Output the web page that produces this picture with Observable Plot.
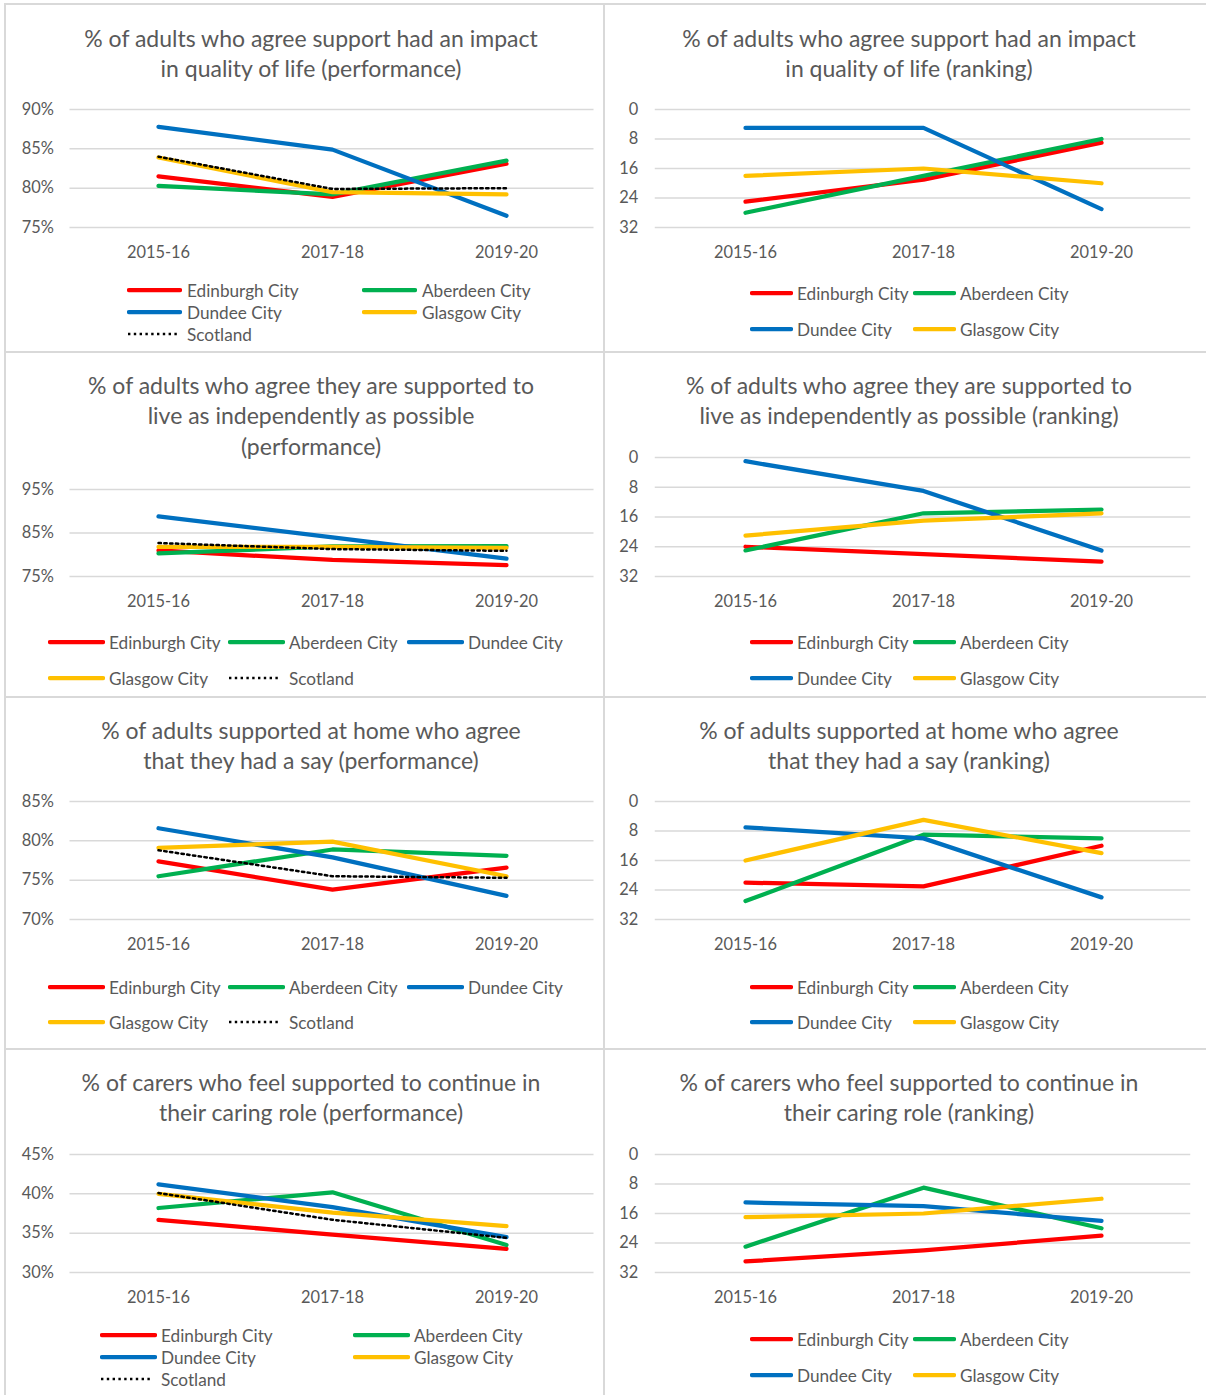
<!DOCTYPE html>
<html><head><meta charset="utf-8">
<script src="https://cdn.jsdelivr.net/npm/d3@7"></script>
<script src="https://cdn.jsdelivr.net/npm/@observablehq/plot@0.6"></script>
<style>
body{margin:0;background:#fff;}
#page{position:relative;width:1206px;height:1395px;overflow:hidden;font-family:Lato,"Open Sans",sans-serif;color:#595959;background:#fff;}
.rule{position:absolute;background:#d9d9d9;}
.title{position:absolute;text-align:center;font-size:23px;line-height:30.5px;color:#595959;white-space:nowrap;}
.lg{position:absolute;display:flex;align-items:center;height:20px;font-size:17.2px;white-space:nowrap;color:#595959;}
.plot{position:absolute;}
</style></head><body><div id="page"></div>
<script>
// ---- data ----
const years = ["2015-16", "2017-18", "2019-20"];
const cities = ["Edinburgh City", "Aberdeen City", "Dundee City", "Glasgow City"];
const scotlandLabel = "Scotland";
const cityColors = ["#FF0000", "#00B050", "#0070C0", "#FFC000"];

// order: Edinburgh, Aberdeen, Dundee, Glasgow
const qolPerformance = [[81.5, 78.9, 83.1], [80.3, 79.2, 83.5], [87.8, 84.9, 76.5], [83.9, 79.5, 79.2]];
const qolScotland = [84.0, 79.9, 80.0];
const qolRanking = [[25, 19, 9], [28, 18, 8], [5, 5, 27], [18, 16, 20]];

const indepPerformance = [[81.0, 78.8, 77.6], [80.3, 81.9, 82.0], [88.8, 84.0, 79.1], [81.8, 81.8, 81.6]];
const indepScotland = [82.7, 81.3, 80.9];
const indepRanking = [[24, 26, 28], [25, 15, 14], [1, 9, 25], [21, 17, 15]];

const sayPerformance = [[77.4, 73.8, 76.6], [75.5, 78.9, 78.1], [81.6, 77.9, 73.0], [79.1, 79.9, 75.5]];
const sayScotland = [78.8, 75.5, 75.3];
const sayRanking = [[22, 23, 12], [27, 9, 10], [7, 10, 26], [16, 5, 14]];

const carersPerformance = [[36.7, 34.8, 33.0], [38.2, 40.2, 33.5], [41.2, 38.3, 34.5], [40.0, 37.6, 35.9]];
const carersScotland = [40.1, 36.7, 34.4];
const carersRanking = [[29, 26, 22], [25, 9, 20], [13, 14, 18], [17, 16, 12]];

const pctTicksQol = [75, 80, 85, 90];
const pctTicksIndep = [75, 85, 95];
const pctTicksSay = [70, 75, 80, 85];
const pctTicksCarers = [30, 35, 40, 45];
const rankTicks = [0, 8, 16, 24, 32];

// ---- layout ----
const L = {left: 5, width: 599, xRange: [69.5, 593.5], titleCx: 311};
const R = {left: 604, width: 602, xRange: [654.75, 1190.25], titleCx: 909};
const legRight = {cols: [750, 913], len: 43, gap: 4};

const panels = [
  {...L, title: ["% of adults who agree support had an impact", "in quality of life (performance)"], titleTop: 38,
   values: qolPerformance, scot: qolScotland, pct: true, domain: [75, 90], ticks: pctTicksQol, gridTop: 109, gridBottom: 227,
   legend: {cols: [127, 362], rows: [290, 312, 334], len: 55, gap: 5}},
  {...R, title: ["% of adults who agree support had an impact", "in quality of life (ranking)"], titleTop: 38,
   values: qolRanking, pct: false, domain: [0, 32], ticks: rankTicks, gridTop: 109, gridBottom: 227,
   legend: {...legRight, rows: [293, 329]}},
  {...L, title: ["% of adults who agree they are supported to", "live as independently as possible", "(performance)"], titleTop: 385,
   values: indepPerformance, scot: indepScotland, pct: true, domain: [75, 95], ticks: pctTicksIndep, gridTop: 489, gridBottom: 576,
   legend: {cols: [48, 228, 407], rows: [642, 678], len: 57, gap: 4}},
  {...R, title: ["% of adults who agree they are supported to", "live as independently as possible (ranking)"], titleTop: 385,
   values: indepRanking, pct: false, domain: [0, 32], ticks: rankTicks, gridTop: 457, gridBottom: 576,
   legend: {...legRight, rows: [642, 678]}},
  {...L, title: ["% of adults supported at home who agree", "that they had a say (performance)"], titleTop: 730,
   values: sayPerformance, scot: sayScotland, pct: true, domain: [70, 85], ticks: pctTicksSay, gridTop: 801, gridBottom: 919,
   legend: {cols: [48, 228, 407], rows: [987, 1022], len: 57, gap: 4}},
  {...R, title: ["% of adults supported at home who agree", "that they had a say (ranking)"], titleTop: 730,
   values: sayRanking, pct: false, domain: [0, 32], ticks: rankTicks, gridTop: 801, gridBottom: 919,
   legend: {...legRight, rows: [987, 1022]}},
  {...L, title: ["% of carers who feel supported to continue in", "their caring role (performance)"], titleTop: 1082,
   values: carersPerformance, scot: carersScotland, pct: true, domain: [30, 45], ticks: pctTicksCarers, gridTop: 1154, gridBottom: 1272,
   legend: {cols: [100, 353], rows: [1335, 1357, 1379], len: 57, gap: 4}},
  {...R, title: ["% of carers who feel supported to continue in", "their caring role (ranking)"], titleTop: 1082,
   values: carersRanking, pct: false, domain: [0, 32], ticks: rankTicks, gridTop: 1154, gridBottom: 1272,
   legend: {...legRight, rows: [1339, 1375]}}
];

const page = document.getElementById("page");

// panel rules
function rule(x, y, w, h) {
  const d = document.createElement("div");
  d.className = "rule";
  Object.assign(d.style, {left: x + "px", top: y + "px", width: w + "px", height: h + "px"});
  page.appendChild(d);
}
[4, 352, 697, 1049].forEach(y => rule(4, y - 1, 1202, 2));
[5, 604].forEach(x => rule(x - 1, 3, 2, 1392));

function makePanel(p) {
  // title
  const t = document.createElement("div");
  t.className = "title";
  t.style.left = (p.titleCx - 300) + "px";
  t.style.width = "600px";
  t.style.top = (p.titleTop - 15.25) + "px";
  t.innerHTML = p.title.join("<br>");
  page.appendChild(t);

  // data
  const rows = [];
  p.values.forEach((arr, i) => arr.forEach((v, j) => rows.push({year: years[j], series: cities[i], value: v})));
  const scot = p.scot ? p.scot.map((v, j) => ({year: years[j], series: scotlandLabel, value: v})) : null;

  const mt = 12, mb = 42;
  const height = mt + (p.gridBottom - p.gridTop) + mb;
  const fmt = p.pct ? (d => d + "%") : (d => String(d));
  const marks = [
    Plot.gridY(p.ticks, {stroke: "#d9d9d9", strokeOpacity: 1, strokeWidth: 1.5}),
    Plot.axisY(p.ticks, {tickSize: 0, tickPadding: p.pct ? 16 : 17, tickFormat: fmt, label: null}),
    Plot.axisX({tickSize: 0, tickPadding: 19, label: null}),
    Plot.line(rows, {x: "year", y: "value", z: "series", stroke: "series", strokeWidth: 4.25,
      strokeLinecap: "round", strokeLinejoin: "round"})
  ];
  if (scot) marks.push(Plot.line(scot, {x: "year", y: "value", stroke: "#000", strokeWidth: 2.5, strokeDasharray: "2.4,3.4"}));

  const svg = Plot.plot({
    width: p.width, height,
    marginTop: mt, marginBottom: mb,
    marginLeft: p.xRange[0] - p.left,
    marginRight: p.left + p.width - p.xRange[1],
    x: {type: "point", domain: years, padding: 0.5},
    y: {domain: p.domain, reverse: !p.pct},
    color: {domain: cities, range: cityColors},
    style: {fontFamily: "Lato, 'Open Sans', sans-serif", fontSize: "16.4px", color: "#595959", background: "transparent", overflow: "visible"},
    marks
  });
  svg.classList.add("plot");
  svg.style.left = p.left + "px";
  svg.style.top = (p.gridTop - mt) + "px";
  page.appendChild(svg);

  // legend
  const items = cities.map((c, i) => ({label: c, color: cityColors[i], dotted: false}));
  if (scot) items.push({label: scotlandLabel, color: "#000", dotted: true});
  const nc = p.legend.cols.length;
  items.forEach((it, k) => {
    const col = k % nc, row = Math.floor(k / nc);
    const d = document.createElement("div");
    d.className = "lg";
    d.style.left = p.legend.cols[col] + "px";
    d.style.top = (p.legend.rows[row] - 10) + "px";
    const len = p.legend.len;
    const line = it.dotted
      ? `<line x1="1" x2="${len - 5}" y1="4" y2="4" stroke="#000" stroke-width="2.5" stroke-dasharray="2.4,3.4"/>`
      : `<line x1="2" x2="${len - 2}" y1="4" y2="4" stroke="${it.color}" stroke-width="4.25" stroke-linecap="round"/>`;
    d.innerHTML = `<svg width="${len}" height="8" style="display:block">${line}</svg><span style="margin-left:${p.legend.gap}px">${it.label}</span>`;
    page.appendChild(d);
  });
}

panels.forEach(makePanel);
</script>
</body></html>
